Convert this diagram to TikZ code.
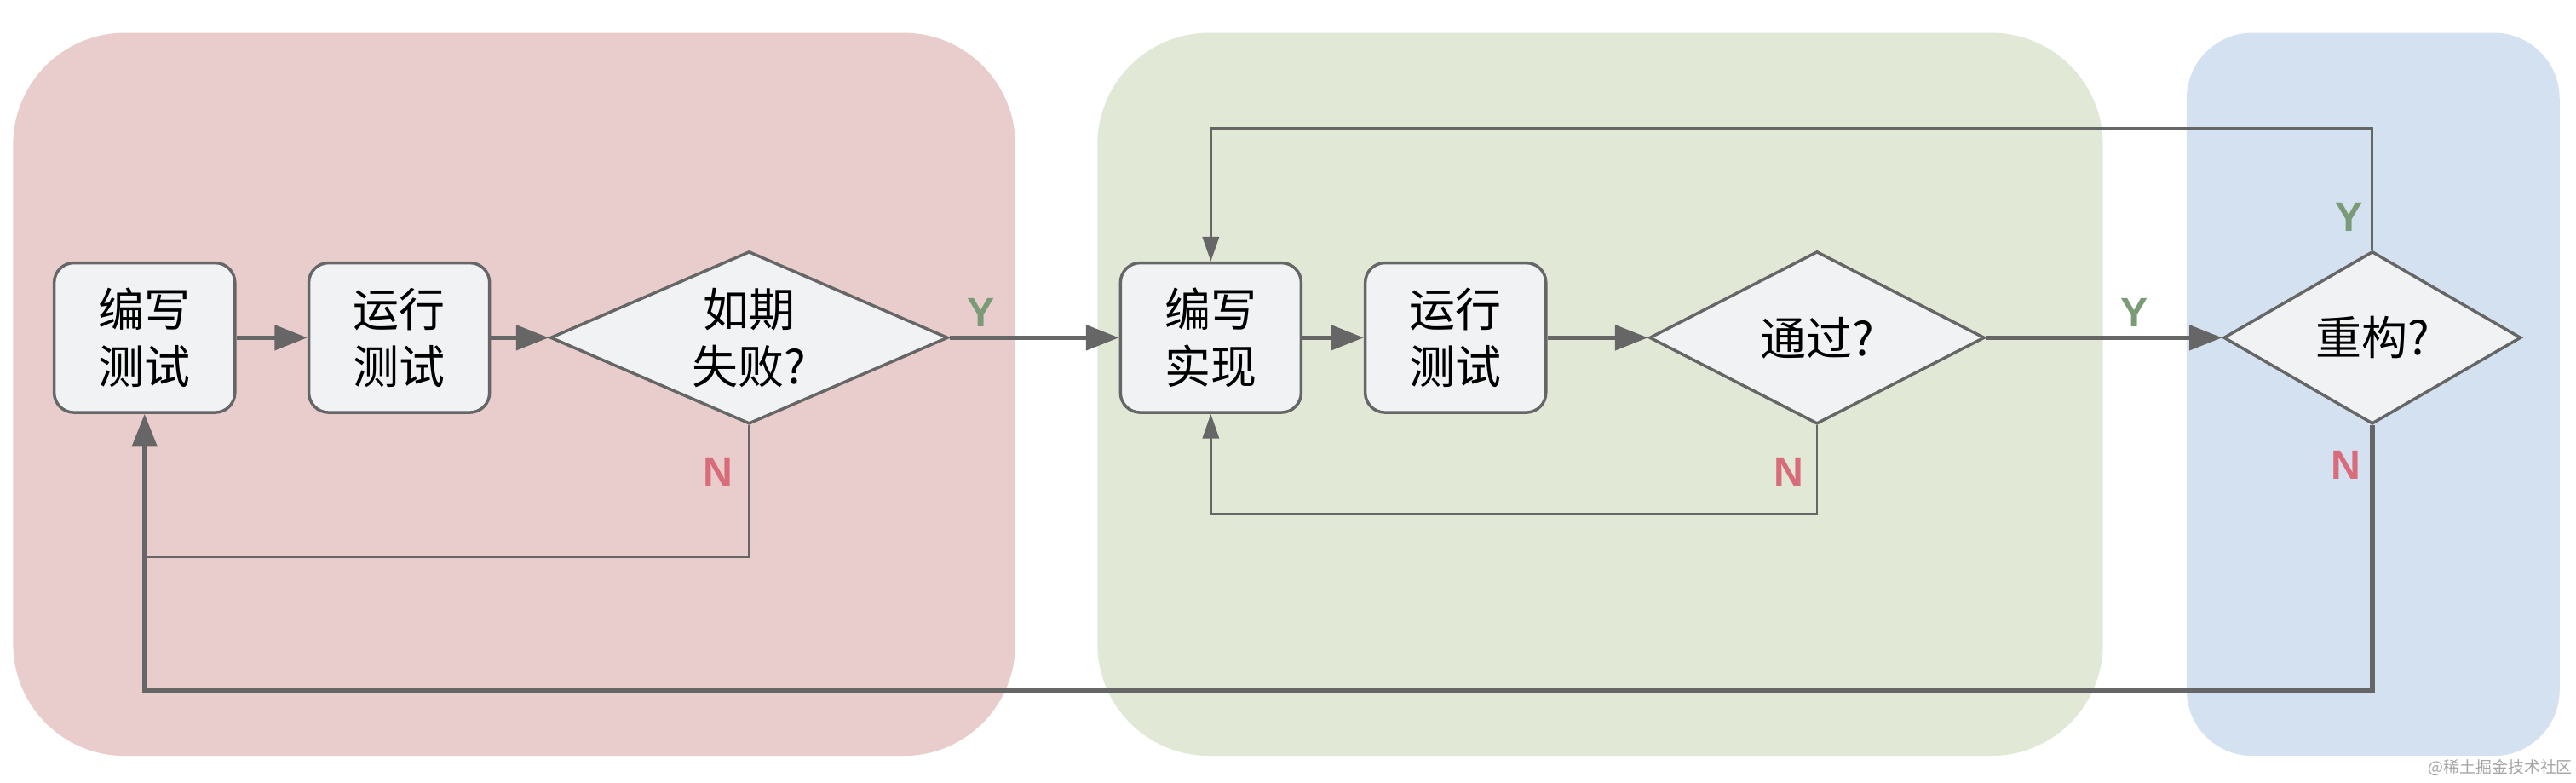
\documentclass[tikz,border=0pt]{standalone}
\usepackage{fontspec}
\setmainfont{Liberation Sans}
\newfontfamily\cjkfont{Noto Sans CJK SC}
\usetikzlibrary{shapes.geometric,arrows.meta}

\definecolor{panelred}{RGB}{232,205,204}
\definecolor{panelgreen}{RGB}{225,233,214}
\definecolor{panelblue}{RGB}{212,225,241}
\definecolor{boxfill}{RGB}{240,242,244}
\definecolor{linegray}{RGB}{102,102,102}
\definecolor{yesgreen}{RGB}{122,155,118}
\definecolor{nored}{RGB}{217,108,122}
\definecolor{markgray}{RGB}{165,165,165}

\begin{document}
\begin{tikzpicture}[x=0.5pt,y=-0.5pt]
  \tikzset{BoxStyle/.style = {
    shape           = rectangle,
    rounded corners = 6pt,
    draw            = linegray,
    fill            = boxfill,
    line width      = 0.9pt,
    text            = black,
    align           = center,
    inner sep       = 0pt,
    minimum width   = 55pt,
    minimum height  = 45.5pt,
    font            = \cjkfont\fontsize{14}{17.5}\selectfont
    }
  }
  \tikzset{DecisionStyle/.style = {
    shape           = diamond,
    aspect          = 2.3,
    draw            = linegray,
    fill            = boxfill,
    line width      = 0.9pt,
    text            = black,
    align           = center,
    inner sep       = 0pt,
    minimum height  = 52.5pt,
    font            = \cjkfont\fontsize{14}{17.5}\selectfont
    }
  }
  \tikzset{FlowStyle/.style = {
    draw            = linegray,
    line width      = 1.4pt,
    -{Triangle[length=10pt,width=7.5pt]}
    }
  }
  \tikzset{LoopStyle/.style = {
    draw            = linegray,
    line width      = 0.75pt,
    -{Triangle[length=7.5pt,width=5pt]}
    }
  }
  \tikzset{YesStyle/.style = {
    text            = yesgreen,
    font            = \bfseries\fontsize{12.5}{15}\selectfont
    }
  }
  \tikzset{NoStyle/.style = {
    text            = nored,
    font            = \bfseries\fontsize{12.5}{15}\selectfont
    }
  }

  \useasboundingbox (0,0) rectangle (1568,476.5);

  % stages
  \fill[panelred, rounded corners=34pt] (8,20) rectangle (618,460);
  \fill[panelgreen, rounded corners=34pt] (668,20) rectangle (1280,460);
  \fill[panelblue, rounded corners=20pt] (1331,20) rectangle (1558,460);

	\node[BoxStyle](W1) at (88, 205.5) {编写\\测试};
	\node[BoxStyle](R1) at (243, 205.5) {运行\\测试};
	\node[DecisionStyle, minimum width=121pt](D1) at (456, 205.5) {如期\\失败?};
	\node[BoxStyle](W2) at (737, 205.5) {编写\\实现};
	\node[BoxStyle](R2) at (886, 205.5) {运行\\测试};
	\node[DecisionStyle, minimum width=102pt](D2) at (1106, 205.5) {通过?};
	\node[DecisionStyle, minimum width=90.5pt](D3) at (1444, 205.5) {重构?};

	\coordinate (J1) at (88, 339);
	\coordinate (L2) at (0, 313);
	\coordinate (T3) at (0, 78);
	\coordinate (B3) at (0, 420);

	\draw[FlowStyle](W1) -- (R1);
	\draw[FlowStyle](R1) -- (D1);
	\draw[FlowStyle](D1) -- (W2);
	\draw[FlowStyle](W2) -- (R2);
	\draw[FlowStyle](R2) -- (D2);
	\draw[FlowStyle](D2) -- (D3);
	\draw[LoopStyle, -](D1.south) |- (J1);
	\draw[LoopStyle](D2.south) -- (D2.south |- L2) -| (W2.south);
	\draw[LoopStyle](D3.north) -- (D3.north |- T3) -| (W2.north);
	\draw[FlowStyle](D3.south) -- (D3.south |- B3) -| (W1.south);

	\node[YesStyle](Y1) at (597, 190) {Y};
	\node[NoStyle](N1) at (437, 287) {N};
	\node[YesStyle](Y2) at (1299, 190) {Y};
	\node[NoStyle](N2) at (1089, 287) {N};
	\node[YesStyle](Y3) at (1430, 132) {Y};
	\node[NoStyle](N3) at (1428, 283) {N};

	\node[text=markgray, font=\cjkfont\fontsize{4.9}{6}\selectfont](WM) at (1522, 467) {@稀土掘金技术社区};

\end{tikzpicture}
\end{document}
